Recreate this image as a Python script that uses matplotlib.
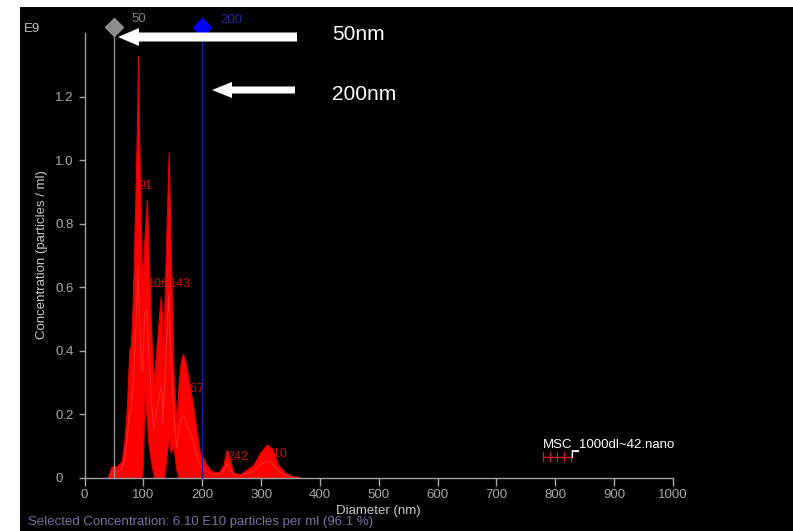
import matplotlib
matplotlib.use('Agg')
import matplotlib.pyplot as plt
from matplotlib.patches import Polygon, Rectangle

# size distribution: upper / lower edges of the error band (E9 particles / ml)
DIAMETER = [40, 46, 54, 63, 68, 72, 76, 79, 82, 86, 89, 91, 93, 97, 99, 102,
            106, 109, 114, 118, 121, 125, 129.5, 132, 133.5, 135.5, 139, 143, 146, 151,
            156.5, 160, 164, 167, 171, 176, 185, 193, 197, 201, 207, 216, 228,
            236, 242, 248, 253, 264, 287, 299, 310, 319, 329, 341, 351, 366]
UPPER = [0, 0.035, 0.035, 0.05, 0.12, 0.22, 0.40, 0.42, 0.55, 0.85,
         1.10, 1.33, 1.05, 0.68, 0.64, 0.76, 0.875, 0.70, 0.43, 0.30,
         0.38, 0.47, 0.57, 0.50, 0.34, 0.52, 0.76, 1.025, 0.76, 0.34, 0.165,
         0.30, 0.37, 0.39, 0.37, 0.32, 0.22, 0.113, 0.07, 0.066, 0.04,
         0.02, 0.016, 0.04, 0.088, 0.05, 0.016, 0.01, 0.04, 0.08, 0.104,
         0.09, 0.04, 0.015, 0.005, 0]
LOWER = [0, 0, 0, 0, 0, 0, 0, 0, 0, 0,
         0, 0, 0, 0, 0.03, 0.27, 0.18, 0.10, 0.04, 0,
         0, 0, 0, 0, 0, 0, 0.06, 0.13, 0.08, 0.10, 0.02,
         0, 0, 0, 0, 0, 0, 0, 0, 0, 0,
         0, 0, 0, 0, 0, 0, 0, 0, 0, 0,
         0, 0, 0, 0, 0]

PEAKS = [91, 106, 143, 167, 242, 310]
PEAK_Y = [0.91, 0.60, 0.60, 0.27, 0.055, 0.065]

XTICKS = list(range(0, 1001, 100))
YTICKS = [0, 0.2, 0.4, 0.6, 0.8, 1.0, 1.2]
YLABELS = ['0', '0.2', '0.4', '0.6', '0.8', '1.0', '1.2']

W, H = 793, 531
FONT = ['Liberation Sans', 'DejaVu Sans']
GREY = '#a8a8a8'


def fp(px, py):
    return (px / W, 1 - py / H)


fig = plt.figure(figsize=(W / 100, H / 100), dpi=100, facecolor='white')
fig.patches.append(Rectangle((20 / W, 0), 1, 1 - 7 / H, transform=fig.transFigure,
                             facecolor='black', edgecolor='none', zorder=-10))

ax = fig.add_axes([84.5 / W, (H - 477.5) / H, (673 - 84.5) / W, (477.5 - 33.3) / H])
ax.set_facecolor('none')
ax.set_xlim(0, 1000)
ax.set_ylim(0, 1.4)

for s in ['top', 'right']:
    ax.spines[s].set_visible(False)
for s in ['left', 'bottom']:
    ax.spines[s].set_color('#a0a0a0')
    ax.spines[s].set_linewidth(1)

# peak labels sit behind the red band
for x, y in zip(PEAKS, PEAK_Y):
    ax.text(x, y, str(x), color='#c81010', fontsize=9, family=FONT, zorder=1)

ax.fill_between(DIAMETER, LOWER, UPPER, color='#ff0000', linewidth=0.8,
                edgecolor='#e00000', zorder=2)
mean = [(u + l) / 2 for u, l in zip(UPPER, LOWER)]
ax.plot(DIAMETER, mean, color='#ff8080', lw=0.7, alpha=0.35, zorder=3)

# cursor lines at 50 and 200 nm
ax.plot([50, 50], [0, 1.43], color='#909090', lw=1, clip_on=False, zorder=4)
ax.plot([200, 200], [0, 1.43], color='#2020b0', lw=1, clip_on=False, zorder=4)
ax.plot([50], [1.42], marker='D', ms=9, color='#8c8c8c', clip_on=False, zorder=5)
ax.plot([200], [1.42], marker='D', ms=9, color='#0000ff', clip_on=False, zorder=5)
ax.text(*fp(131, 19), '50', transform=fig.transFigure, color='#808080',
        fontsize=9.5, family=FONT, va='center')
ax.text(*fp(220, 20), '200', transform=fig.transFigure, color='#2828a0',
        fontsize=9.5, family=FONT, va='center')

ax.set_xticks(XTICKS)
ax.set_xticklabels([str(t) for t in XTICKS], family=FONT)
ax.set_yticks(YTICKS)
ax.set_yticklabels(YLABELS, family=FONT)
ax.tick_params(axis='x', colors=GREY, length=6, width=1, labelsize=9.5, pad=2)
ax.tick_params(axis='y', colors=GREY, length=4, width=1, labelsize=9.5, pad=17)
for lab in ax.get_yticklabels():
    lab.set_ha('left')

ax.set_xlabel('Diameter (nm)', color='#c8c8c8', fontsize=9.5, family=FONT, labelpad=3)
fig.text(*fp(42, 255), 'Concentration (particles / ml)', color='#c8c8c8',
         fontsize=9.5, family=FONT, rotation=90, ha='center', va='center')
fig.text(*fp(24, 29), 'E9', color='#c0c0c0', fontsize=9.5, family=FONT, va='center')
fig.text(*fp(28, 522), 'Selected Concentration: 6.10 E10 particles per ml (96.1 %)',
         color='#7474a4', fontsize=9.5, family=FONT, va='center')

# legend entry
fig.text(*fp(543, 444), 'MSC_1000dl~42.nano', color='white', fontsize=9.5,
         family=FONT, va='center')
ax.plot([779, 828], [0.066, 0.066], color='#d02020', lw=1, clip_on=False)
for x in [779, 791, 803, 814, 826]:
    ax.plot([x, x], [0.052, 0.08], color='#d02020', lw=0.8)
ax.plot([829, 838], [0.082, 0.082], color='white', lw=0.8)
ax.plot([829, 829], [0.066, 0.082], color='white', lw=0.8)

# white annotation arrows
def arrow(tip, back, head_x, y, shaft_h, head_h):
    pts = [(tip, y), (head_x, y - head_h / 2), (head_x, y - shaft_h / 2),
           (back, y - shaft_h / 2), (back, y + shaft_h / 2),
           (head_x, y + shaft_h / 2), (head_x, y + head_h / 2)]
    fig.patches.append(Polygon([fp(*p) for p in pts], closed=True,
                               transform=fig.transFigure, facecolor='white',
                               edgecolor='none', zorder=6))


arrow(118, 297, 139, 37, 9, 18)
arrow(212, 295, 232, 90, 7, 16)
fig.text(*fp(332, 35), '50nm', color='white', fontsize=15, family=FONT, va='center')
fig.text(*fp(332, 94), '200nm', color='white', fontsize=15, family=FONT, va='center')

fig.savefig('out.png', dpi=100, facecolor='white')
